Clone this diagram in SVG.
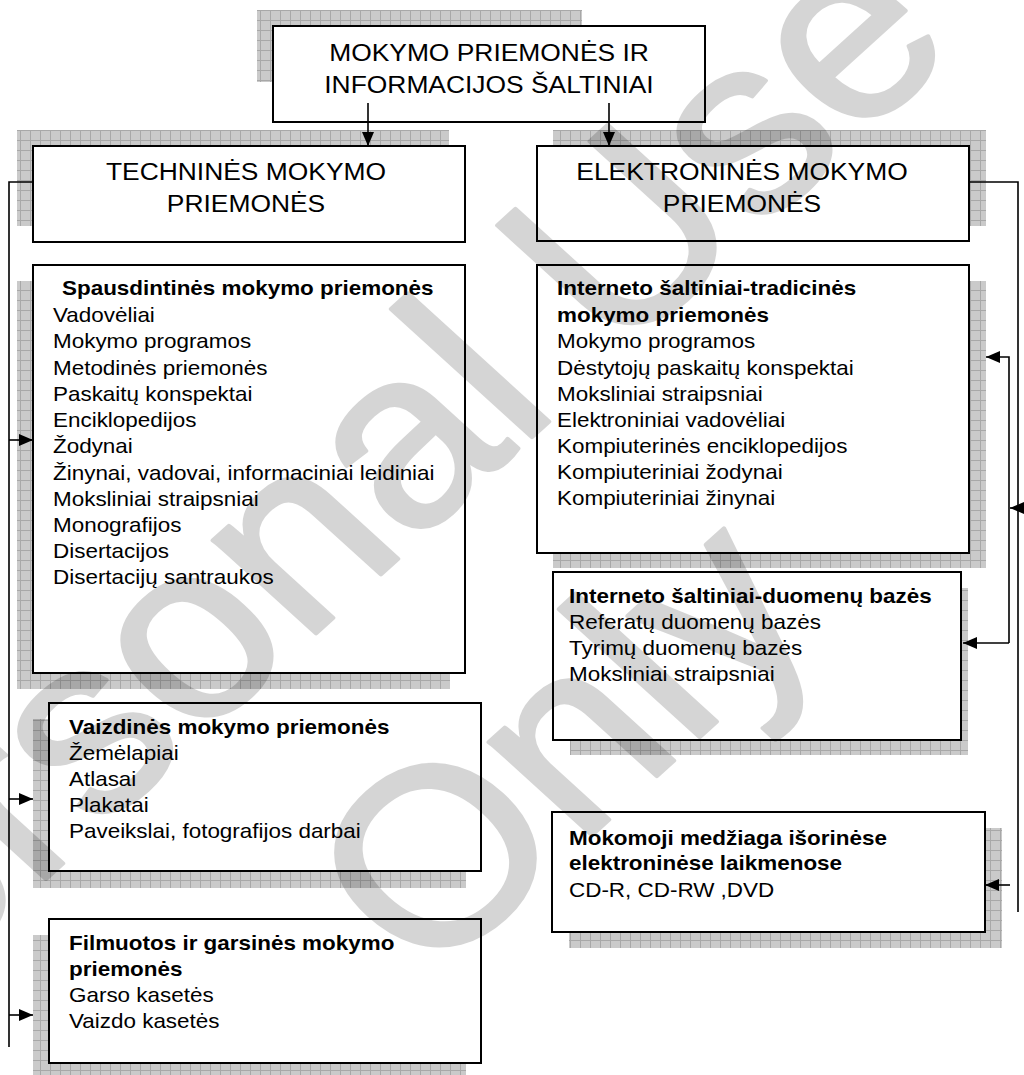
<svg xmlns="http://www.w3.org/2000/svg" width="1024" height="1075" viewBox="0 0 1024 1075">
<defs>
<pattern id="grid" width="10" height="10" patternUnits="userSpaceOnUse">
<rect width="10" height="10" fill="#cacaca"/>
<path d="M0,0.5H10M0.5,0V10" stroke="#a8a8a8" stroke-width="1" fill="none"/>
</pattern>
<marker id="arr" markerUnits="userSpaceOnUse" markerWidth="14" markerHeight="12" refX="14" refY="6" orient="auto">
<path d="M0,0 L14,6 L0,12 z" fill="#000"/>
</marker>
<style>
.box{fill:#fff;stroke:#000;stroke-width:2}
.sh{fill:url(#grid)}
.t{font-family:"Liberation Sans",Arial,sans-serif;font-size:20.4px;fill:#000}
.b{font-weight:bold}
.h{font-size:24px;text-anchor:middle}
.ln{fill:none;stroke:#000;stroke-width:1.6}
.ar{marker-end:url(#arr)}
.wm{font-family:"Liberation Sans",Arial,sans-serif;font-size:250px;text-anchor:middle;fill:#000;stroke:#000;stroke-width:4;stroke-linejoin:round}
</style>
</defs>
<rect width="1024" height="1075" fill="#fff"/>

<g id="n-root">
<rect class="sh" x="257" y="10" width="325" height="72"/>
<rect class="box" x="273" y="26" width="432" height="96"/>
<text class="t h" transform="translate(489,0) scale(1.1,1)"><tspan x="0" y="61">MOKYMO PRIEMONĖS IR</tspan><tspan x="0" y="93">INFORMACIJOS ŠALTINIAI</tspan></text>
</g>

<g id="n-tech">
<rect class="sh" x="17" y="130" width="432" height="96"/>
<rect class="box" x="33" y="146" width="432" height="96"/>
<text class="t h" transform="translate(246,0) scale(1.1,1)"><tspan x="0" y="180">TECHNINĖS MOKYMO</tspan><tspan x="0" y="212">PRIEMONĖS</tspan></text>
</g>

<g id="n-elek">
<rect class="sh" x="553" y="130" width="433" height="96"/>
<rect class="box" x="537" y="146" width="432" height="95"/>
<text class="t h" transform="translate(742,0) scale(1.1,1)"><tspan x="0" y="180">ELEKTRONINĖS MOKYMO</tspan><tspan x="0" y="212">PRIEMONĖS</tspan></text>
</g>

<g id="n-spaus">
<rect class="sh" x="17" y="281" width="433" height="408"/>
<rect class="box" x="33" y="265" width="432" height="408"/>
<text class="t" transform="translate(53,0) scale(1.1,1)"><tspan class="b" x="8.2" y="295">Spausdintinės mokymo priemonės</tspan><tspan x="0" y="322">Vadovėliai</tspan><tspan x="0" y="348">Mokymo programos</tspan><tspan x="0" y="375">Metodinės priemonės</tspan><tspan x="0" y="401">Paskaitų konspektai</tspan><tspan x="0" y="427">Enciklopedijos</tspan><tspan x="0" y="453">Žodynai</tspan><tspan x="0" y="480">Žinynai, vadovai, informaciniai leidiniai</tspan><tspan x="0" y="506">Moksliniai straipsniai</tspan><tspan x="0" y="532">Monografijos</tspan><tspan x="0" y="558">Disertacijos</tspan><tspan x="0" y="584">Disertacijų santraukos</tspan></text>
</g>

<g id="n-vaizd">
<rect class="sh" x="33" y="719" width="433" height="169"/>
<rect class="box" x="49" y="703" width="432" height="168"/>
<text class="t" transform="translate(69,0) scale(1.1,1)"><tspan class="b" x="0" y="734">Vaizdinės mokymo priemonės</tspan><tspan x="0" y="760">Žemėlapiai</tspan><tspan x="0" y="786">Atlasai</tspan><tspan x="0" y="812">Plakatai</tspan><tspan x="0" y="838">Paveikslai, fotografijos darbai</tspan></text>
</g>

<g id="n-film">
<rect class="sh" x="33" y="935" width="433" height="145"/>
<rect class="box" x="49" y="919" width="432" height="144"/>
<text class="t" transform="translate(69,0) scale(1.1,1)"><tspan class="b" x="0" y="950">Filmuotos ir garsinės mokymo</tspan><tspan class="b" x="0" y="976">priemonės</tspan><tspan x="0" y="1002">Garso kasetės</tspan><tspan x="0" y="1028">Vaizdo kasetės</tspan></text>
</g>

<g id="n-trad">
<rect class="sh" x="553" y="281" width="433" height="287"/>
<rect class="box" x="537" y="265" width="432" height="288"/>
<text class="t" transform="translate(557,0) scale(1.1,1)"><tspan class="b" x="0" y="295">Interneto šaltiniai-tradicinės</tspan><tspan class="b" x="0" y="322">mokymo priemonės</tspan><tspan x="0" y="348">Mokymo programos</tspan><tspan x="0" y="375">Dėstytojų paskaitų konspektai</tspan><tspan x="0" y="401">Moksliniai straipsniai</tspan><tspan x="0" y="427">Elektroniniai vadovėliai</tspan><tspan x="0" y="453">Kompiuterinės enciklopedijos</tspan><tspan x="0" y="479">Kompiuteriniai žodynai</tspan><tspan x="0" y="505">Kompiuteriniai žinynai</tspan></text>
</g>

<g id="n-duom">
<rect class="sh" x="570" y="588" width="398" height="167"/>
<rect class="box" x="553" y="572" width="408" height="168"/>
<text class="t" transform="translate(569,0) scale(1.1,1)"><tspan class="b" x="0" y="603">Interneto šaltiniai-duomenų bazės</tspan><tspan x="0" y="629">Referatų duomenų bazės</tspan><tspan x="0" y="655">Tyrimų duomenų bazės</tspan><tspan x="0" y="681">Moksliniai straipsniai</tspan></text>
</g>

<g id="n-mok">
<rect class="sh" x="569" y="828" width="433" height="120"/>
<rect class="box" x="552" y="812" width="433" height="120"/>
<text class="t" transform="translate(569,0) scale(1.1,1)"><tspan class="b" x="0" y="845">Mokomoji medžiaga išorinėse</tspan><tspan class="b" x="0" y="870">elektroninėse laikmenose</tspan><tspan x="0" y="897">CD-R, CD-RW ,DVD</tspan></text>
</g>

<g id="connectors">
<path class="ln ar" d="M368,103 V146"/>
<path class="ln ar" d="M609,103 V146"/>
<path class="ln" d="M33,182 H9 V1047"/>
<path class="ln ar" d="M9,440 H33"/>
<path class="ln ar" d="M9,799 H33"/>
<path class="ln ar" d="M9,1015 H33"/>
<path class="ln" d="M969,182 H1018 V912"/>
<path class="ln ar" d="M1009,643 V357 H986"/>
<path class="ln ar" d="M1009,643 H963"/>
<path class="ln ar" d="M1024,508 H1010"/>
<path class="ln ar" d="M1010,885 H985"/>
</g>

<g id="watermark" opacity="0.16" transform="scale(1.1,1) translate(457,690) rotate(-45)">
<text class="wm" x="0" y="-160">Personal Use</text>
<text class="wm" x="0" y="160">Only</text>
</g>
</svg>
